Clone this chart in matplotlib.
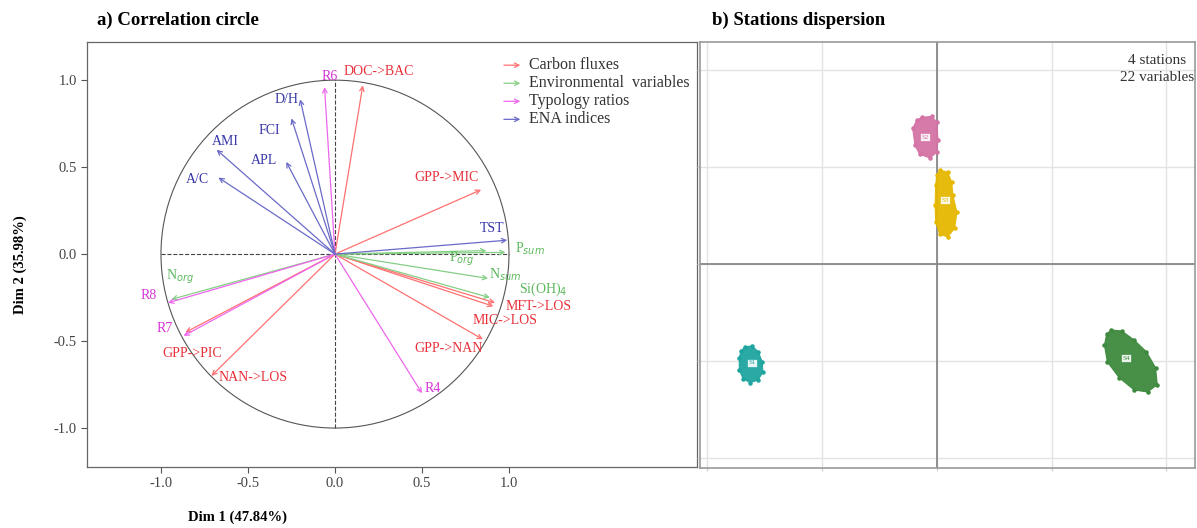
import matplotlib
matplotlib.use('Agg')
import matplotlib.pyplot as plt
from matplotlib.patches import Circle

plt.rcParams['font.family'] = ['Liberation Serif', 'DejaVu Serif']

# --- correlation circle data (Dim1, Dim2) ---
carbon_names = ['DOC->BAC', 'GPP->MIC', 'MFT->LOS', 'MIC->LOS', 'GPP->NAN', 'NAN->LOS', 'GPP->PIC']
carbon_x = [0.16, 0.84, 0.92, 0.91, 0.85, -0.71, -0.86]
carbon_y = [0.97, 0.37, -0.28, -0.30, -0.49, -0.70, -0.45]

env_names = [r'P$_{sum}$', r'P$_{org}$', r'N$_{sum}$', r'N$_{org}$', r'Si(OH)$_4$']
env_x = [0.98, 0.87, 0.88, -0.94, 0.89]
env_y = [0.01, 0.02, -0.14, -0.26, -0.25]

typo_names = ['R6', 'R4', 'R7', 'R8']
typo_x = [-0.06, 0.50, -0.87, -0.96]
typo_y = [0.96, -0.80, -0.47, -0.28]

ena_names = ['D/H', 'FCI', 'AMI', 'APL', 'A/C', 'TST']
ena_x = [-0.20, -0.25, -0.68, -0.28, -0.67, 0.99]
ena_y = [0.89, 0.78, 0.60, 0.53, 0.44, 0.08]

# label positions (data units) for each variable
carbon_lab = [(0.25, 1.05), (0.64, 0.44), (1.17, -0.30), (0.98, -0.38), (0.65, -0.54), (-0.47, -0.71), (-0.82, -0.57)]
env_lab = [(1.12, 0.03), (0.73, -0.03), (0.98, -0.12), (-0.89, -0.13), (1.20, -0.205)]
typo_lab = [(-0.03, 1.02), (0.56, -0.77), (-0.98, -0.43), (-1.07, -0.24)]
ena_lab = [(-0.28, 0.89), (-0.38, 0.71), (-0.63, 0.65), (-0.41, 0.54), (-0.79, 0.43), (0.90, 0.15)]

# --- stations dispersion: outline of each station cloud ---
stations = ['S1', 'S2', 'S3', 'S4']
s1_x = [-3.34, -3.22, -3.11, -3.04, -3.03, -3.11, -3.25, -3.37, -3.44, -3.44, -3.41]
s1_y = [-1.71, -1.69, -1.81, -2.02, -2.23, -2.39, -2.45, -2.37, -2.19, -1.94, -1.79]
s2_x = [-0.26, -0.09, 0.0, 0.02, 0.0, -0.12, -0.30, -0.38, -0.42, -0.35]
s2_y = [3.03, 3.05, 2.93, 2.56, 2.31, 2.19, 2.27, 2.45, 2.80, 2.97]
s3_x = [0.05, 0.19, 0.26, 0.28, 0.35, 0.31, 0.19, 0.05, -0.02, -0.03, -0.02, 0.0]
s3_y = [1.94, 1.90, 1.69, 1.42, 1.07, 0.74, 0.56, 0.62, 0.87, 1.22, 1.63, 1.84]
s4_x = [3.04, 3.22, 3.44, 3.65, 3.81, 3.84, 3.67, 3.44, 3.18, 2.97, 2.92, 2.96]
s4_y = [-1.36, -1.38, -1.57, -1.81, -2.14, -2.49, -2.64, -2.60, -2.35, -2.02, -1.67, -1.44]
station_centers = [(-3.22, -2.04), (-0.21, 2.62), (0.14, 1.32), (3.30, -1.94)]

fig = plt.figure(figsize=(11.97, 5.28), dpi=100)
ax1 = fig.add_axes([0.0727, 0.1155, 0.5095, 0.8045])
ax2 = fig.add_axes([0.585, 0.1136, 0.413, 0.8064])

# ---------------- a) correlation circle ----------------
ax1.set_xlim(-1.425, 2.08)
ax1.set_ylim(-1.224, 1.218)
ax1.add_patch(Circle((0, 0), 1, fill=False, color='#555555', lw=0.8))
ax1.plot([-1, 1], [0, 0], ls='--', color='#444444', lw=0.8)
ax1.plot([0, 0], [-1, 1], ls='--', color='#444444', lw=0.8)

groups = [
    (carbon_names, carbon_x, carbon_y, carbon_lab, '#FF7070', '#E8303A'),
    (env_names, env_x, env_y, env_lab, '#85CF85', '#5DB85D'),
    (typo_names, typo_x, typo_y, typo_lab, '#EE66EE', '#D535D5'),
    (ena_names, ena_x, ena_y, ena_lab, '#6A6AC8', '#3636A8'),
]
for names, xs, ys, labs, lc, tc in groups:
    for n, x, y, (lx, ly) in zip(names, xs, ys, labs):
        ax1.annotate('', xy=(x, y), xytext=(0, 0),
                     arrowprops=dict(arrowstyle='->', color=lc, lw=0.9,
                                     shrinkA=0, shrinkB=0, mutation_scale=8))
        ax1.text(lx, ly, n, color=tc, fontsize=10, ha='center', va='center')

# legend
leg_labels = ['Carbon fluxes', 'Environmental  variables', 'Typology ratios', 'ENA indices']
leg_colors = ['#FF7070', '#85CF85', '#EE66EE', '#6A6AC8']
for i, (lab, c) in enumerate(zip(leg_labels, leg_colors)):
    yy = 0.946 - i * 0.0425
    ax1.annotate('', xy=(0.715, yy), xytext=(0.679, yy), xycoords='axes fraction',
                 arrowprops=dict(arrowstyle='->', color=c, lw=0.9, mutation_scale=8))
    ax1.text(0.724, yy, lab, transform=ax1.transAxes, fontsize=11.5, va='center', color='#333333')

ax1.set_xticks([-1.0, -0.5, 0.0, 0.5, 1.0])
ax1.set_yticks([-1.0, -0.5, 0.0, 0.5, 1.0])
ax1.set_xticklabels(['-1.0', '-0.5', '0.0', '0.5', '1.0'])
ax1.set_yticklabels(['-1.0', '-0.5', '0.0', '0.5', '1.0'])
ax1.tick_params(labelsize=10.5, length=4, color='#555555', labelcolor='#444444')
for s in ax1.spines.values():
    s.set_color('#666666')
    s.set_linewidth(0.9)

fig.text(0.081, 0.962, 'a) Correlation circle', fontsize=13.5, fontweight='bold', va='center')
fig.text(0.198, 0.02, 'Dim 1 (47.84%)', fontsize=10.5, fontweight='bold', ha='center', va='center')
fig.text(0.017, 0.498, 'Dim 2 (35.98%)', fontsize=10.5, fontweight='bold', ha='center', va='center',
         rotation=90)

# ---------------- b) stations dispersion ----------------
ax2.set_xlim(-4.12, 4.49)
ax2.set_ylim(-4.21, 4.58)
ax2.set_xticks([-4, -2, 0, 2, 4])
ax2.set_yticks([-4, -2, 0, 2, 4])
ax2.grid(True, color='#E3E3E3', lw=1.0)
ax2.set_axisbelow(True)
ax2.tick_params(labelbottom=False, labelleft=False, length=2, color='#CCCCCC')
ax2.axhline(0, color='#888888', lw=1.3)
ax2.axvline(0, color='#888888', lw=1.3)
for s in ax2.spines.values():
    s.set_color('#999999')
    s.set_linewidth(1.2)

cloud_colors = ['#1FA5A0', '#D473A6', '#E6B800', '#3E8A3E']
clouds = [(s1_x, s1_y), (s2_x, s2_y), (s3_x, s3_y), (s4_x, s4_y)]
for name, (cx, cy), (xs, ys), c in zip(stations, station_centers, clouds, cloud_colors):
    ax2.fill(xs, ys, color=c, alpha=0.95, lw=0.8, ec=c, zorder=3)
    ax2.scatter(xs, ys, s=5, color=c, zorder=4)
    ax2.text(cx, cy, name, fontsize=5, ha='center', va='center', color=c, zorder=5,
             bbox=dict(boxstyle='square,pad=0.2', fc='white', ec=c, lw=0.5, alpha=0.9))

ax2.text(0.983, 0.958, '4 stations', transform=ax2.transAxes, ha='right', va='center',
         fontsize=11, color='#333333')
ax2.text(1.0, 0.918, '22 variables', transform=ax2.transAxes, ha='right', va='center',
         fontsize=11, color='#333333')
fig.text(0.595, 0.962, 'b) Stations dispersion', fontsize=13.5, fontweight='bold', va='center')

fig.savefig('out.png', dpi=100)
